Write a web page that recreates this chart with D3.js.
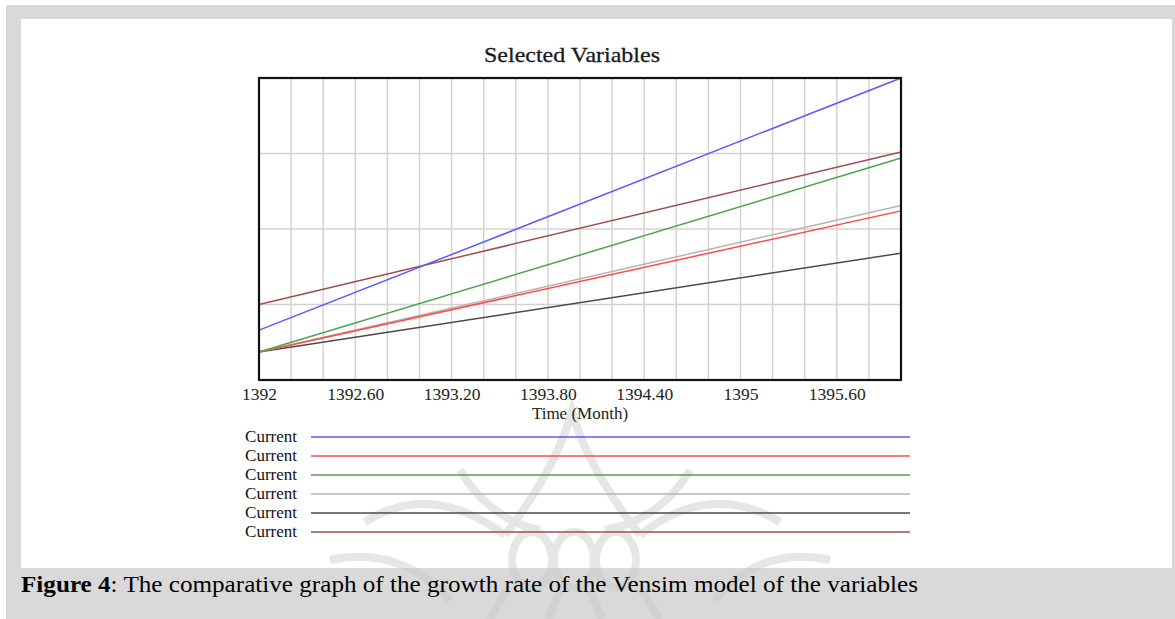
<!DOCTYPE html>
<html>
<head>
<meta charset="utf-8">
<script src="https://cdn.jsdelivr.net/npm/d3@7"></script>
<style>
  html, body { margin: 0; padding: 0; background: #fff; }
  svg { display: block; }
  text { font-family: "Liberation Serif", "Times New Roman", serif; }
</style>
</head>
<body>
<svg id="chart" width="1175" height="619"></svg>
<script>
// ---- data ----
const times = [1392, 1396];
const tickLabels = ["1392", "1392.60", "1393.20", "1393.80", "1394.40", "1395", "1395.60"];
const tickValues = [1392, 1392.6, 1393.2, 1393.8, 1394.4, 1395, 1395.6];
const seriesNames = ["Current", "Current", "Current", "Current", "Current", "Current"];
const blueValues  = [0.66, 4.00];
const redValues   = [0.37, 2.24];
const greenValues = [0.37, 2.94];
const grayValues  = [0.37, 2.31];
const blackValues = [0.37, 1.68];
const brownValues = [1.00, 3.02];
const seriesColors = ["#5a5aff", "#ff4a4a", "#4aa54a", "#b4b4b4", "#4a4a4a", "#a24c4c"];
const seriesValues = [blueValues, redValues, greenValues, grayValues, blackValues, brownValues];
const drawOrder = [4, 3, 1, 2, 5, 0];

const svg = d3.select("#chart");

// page frame
svg.append("rect").attr("x", 6).attr("y", 5).attr("width", 1169).attr("height", 614).attr("fill", "#d9d9d9");
svg.append("rect").attr("x", 21).attr("y", 19).attr("width", 1151).attr("height", 549).attr("fill", "#ffffff");

// faint watermark ornament (background decoration)
const wm = svg.append("g").attr("fill", "none").attr("stroke", "#c8c8c8").attr("stroke-width", 8).attr("opacity", 0.45);
wm.append("path").attr("d", "M505,535 Q555,470 572,412 Q589,470 640,535");
wm.append("path").attr("d", "M460,470 Q490,520 540,530 M690,470 Q660,520 605,530");
wm.append("path").attr("d", "M640,535 Q710,480 780,522 M505,535 Q430,480 365,522");
wm.append("path").attr("d", "M330,560 Q400,545 450,600 M830,560 Q760,545 715,600");
wm.append("ellipse").attr("cx", 532).attr("cy", 560).attr("rx", 20).attr("ry", 28);
wm.append("ellipse").attr("cx", 574).attr("cy", 560).attr("rx", 20).attr("ry", 28);
wm.append("ellipse").attr("cx", 616).attr("cy", 560).attr("rx", 20).attr("ry", 28);
wm.append("path").attr("d", "M560,590 L548,619 M590,590 L602,619 M640,588 L660,619 M508,588 L490,619");

// plot area
const L = 259, T = 78, R = 901, B = 380;
const x = d3.scaleLinear().domain([1392, 1396]).range([L, R]);
const y = d3.scaleLinear().domain([0, 4]).range([B, T]);

// grid
const grid = svg.append("g").attr("stroke", "#d3d3d3").attr("stroke-width", 1.5);
grid.selectAll("line.v").data(d3.range(1, 20).map(i => 1392 + i * 0.2)).enter().append("line")
  .attr("x1", d => x(d)).attr("x2", d => x(d)).attr("y1", T).attr("y2", B);
grid.selectAll("line.h").data([1, 2, 3]).enter().append("line")
  .attr("x1", L).attr("x2", R).attr("y1", d => y(d)).attr("y2", d => y(d));

// series lines
const line = d3.line().x((d, i) => x(times[i])).y(d => y(d));
drawOrder.forEach(k => {
  svg.append("path").datum(seriesValues[k]).attr("d", line)
    .attr("fill", "none").attr("stroke", seriesColors[k]).attr("stroke-width", 1.5);
});

// plot border
svg.append("rect").attr("x", L).attr("y", T).attr("width", R - L).attr("height", B - T)
  .attr("fill", "none").attr("stroke", "#111").attr("stroke-width", 2.2);

// x axis labels
const xAxis = d3.axisBottom(x).tickValues(tickValues).tickSize(0)
  .tickFormat((d, i) => tickLabels[i]);
const ax = svg.append("g").attr("transform", `translate(0,${B})`).call(xAxis);
ax.select(".domain").remove();
ax.selectAll("text").attr("font-family", "Liberation Serif, serif").attr("font-size", 17.5)
  .attr("fill", "#222").attr("dy", null).attr("y", 20);

svg.append("text").attr("x", 580).attr("y", 419).attr("text-anchor", "middle")
  .attr("font-size", 17).attr("fill", "#222").text("Time (Month)");

// title
svg.append("text").attr("x", 572).attr("y", 62).attr("text-anchor", "middle")
  .attr("font-size", 22).attr("fill", "#1a1a1a").attr("stroke", "#1a1a1a").attr("stroke-width", 0.3)
  .attr("textLength", 176).attr("lengthAdjust", "spacingAndGlyphs").text("Selected Variables");

// legend
const leg = svg.append("g");
seriesNames.forEach((name, i) => {
  const yy = 437 + i * 19;
  leg.append("text").attr("x", 297).attr("y", yy + 5).attr("text-anchor", "end")
    .attr("font-size", 17).attr("fill", "#111").text(name);
  leg.append("line").attr("x1", 311).attr("x2", 910).attr("y1", yy).attr("y2", yy)
    .attr("stroke", seriesColors[i]).attr("stroke-width", 1.5);
});

// caption
const cap = svg.append("text").attr("x", 21).attr("y", 592).attr("font-size", 24).attr("fill", "#000")
  .attr("textLength", 897).attr("lengthAdjust", "spacingAndGlyphs");
cap.append("tspan").attr("font-weight", "bold").text("Figure 4");
cap.append("tspan").text(": The comparative graph of the growth rate of the Vensim model of the variables");
</script>
</body>
</html>
